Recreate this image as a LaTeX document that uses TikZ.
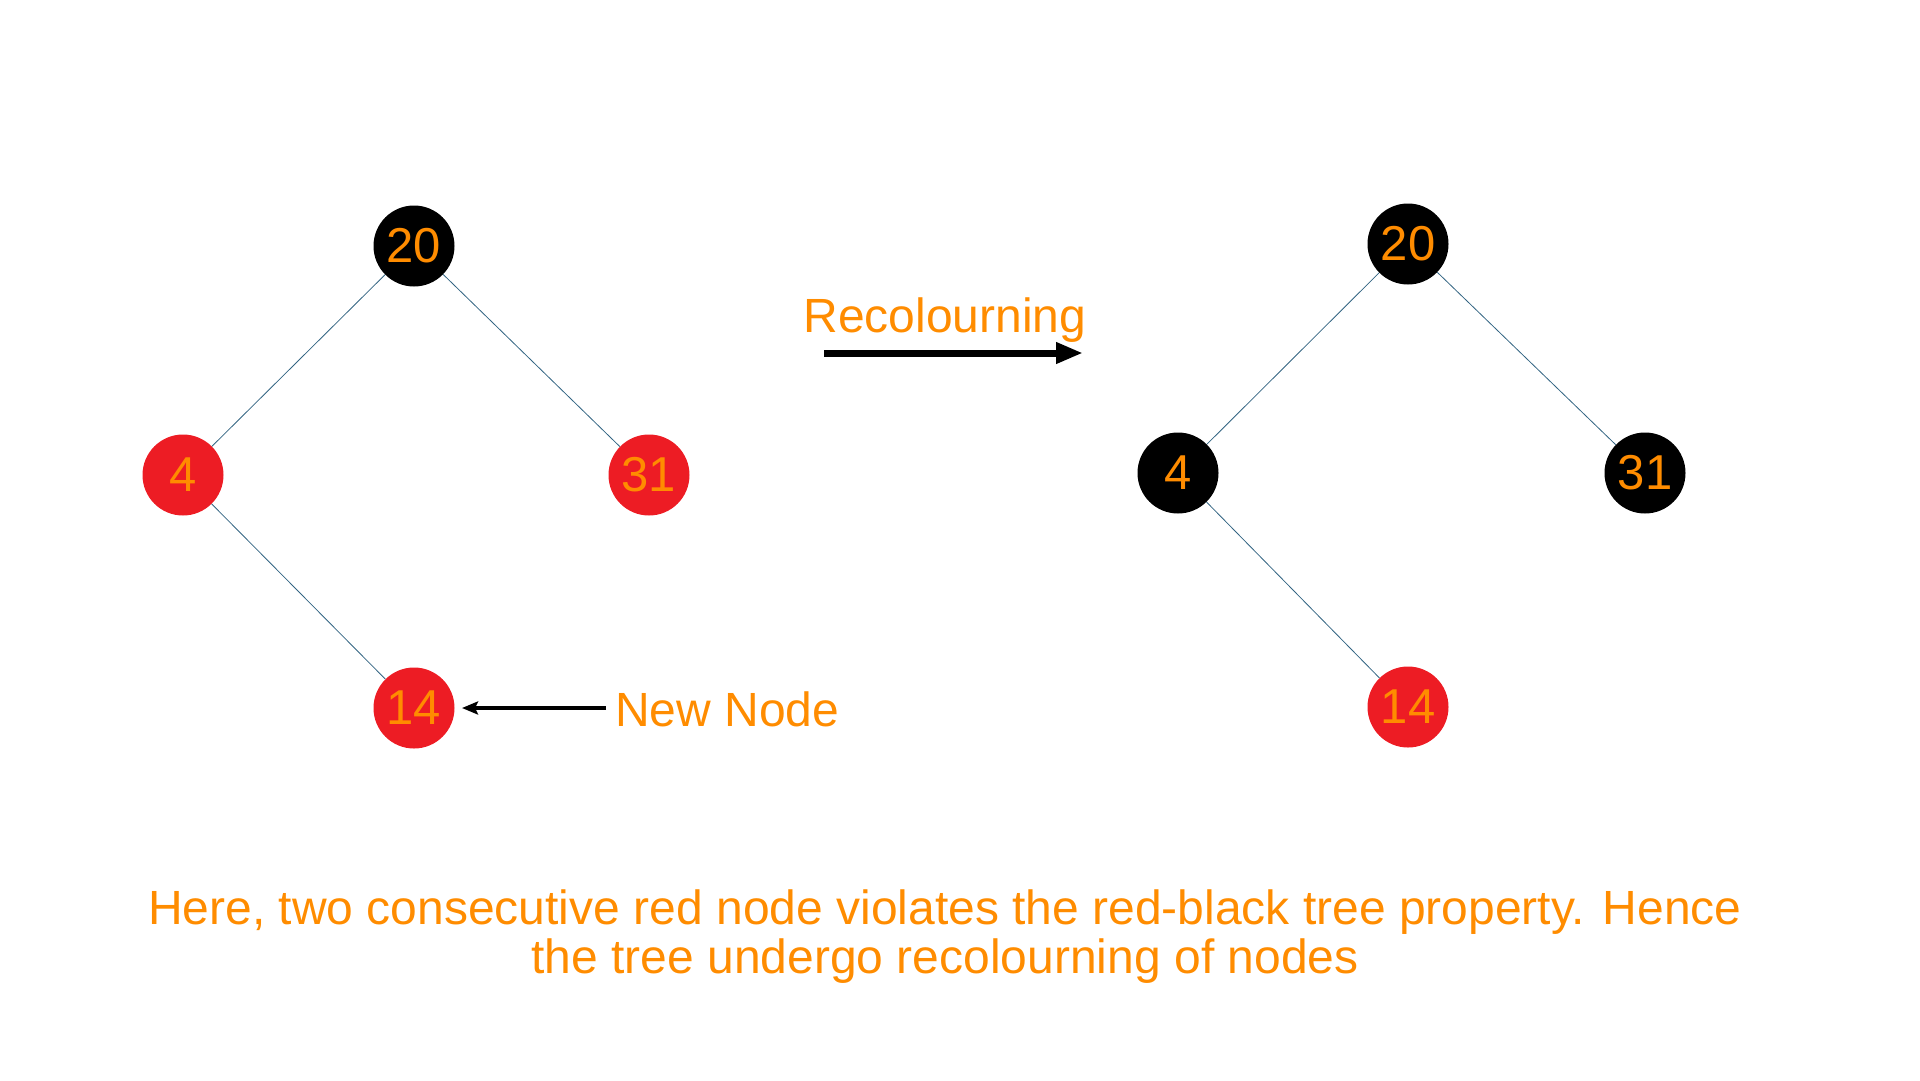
\documentclass[tikz,border=0pt]{standalone}
\usepackage{fontspec}
\setmainfont{Liberation Sans}
\usetikzlibrary{arrows.meta}
\definecolor{tred}{RGB}{237,28,36}
\definecolor{torange}{RGB}{255,140,0}
\definecolor{tedge}{RGB}{50,100,130}
\begin{document}
\begin{tikzpicture}[x=1pt,y=-1pt,
  rbnode/.style={circle,minimum size=81pt,inner sep=0pt,text=torange,font=\fontsize{49}{49}\selectfont},
  rednode/.style={rbnode,fill=tred},
  blacknode/.style={rbnode,fill=black},
  treeedge/.style={draw=tedge,line width=0.8pt},
  lbl/.style={text=torange,font=\fontsize{48}{48}\selectfont,inner sep=0pt}]
\path[use as bounding box] (0,0) rectangle (1920,1080);
% left tree
\node[blacknode] (a20) at (414,246) {20};
\node[rednode] (a4) at (183,475) {4};
\node[rednode] (a31) at (649,475) {31};
\node[rednode] (a14) at (414,708) {14};
\draw[treeedge] (a20) -- (a4);
\draw[treeedge] (a20) -- (a31);
\draw[treeedge] (a4) -- (a14);
% right tree
\node[blacknode] (b20) at (1408,244) {20};
\node[blacknode] (b4) at (1178,473) {4};
\node[blacknode] (b31) at (1645,473) {31};
\node[rednode] (b14) at (1408,707) {14};
\draw[treeedge] (b20) -- (b4);
\draw[treeedge] (b20) -- (b31);
\draw[treeedge] (b4) -- (b14);
% recolouring arrow
\node[lbl] (rec) at (945,320) {Recolourning};
\coordinate (r1) at (824,353);
\coordinate (r2) at (1083,353);
\draw[line width=7pt,-{Triangle[length=27pt,width=20pt]}] (r1) -- (r2);
% new node
\node[lbl,anchor=west] (nn) at (615,709) {New Node};
\coordinate (n1) at (606,708);
\coordinate (n2) at (462,708);
\draw[line width=4.5pt,-{Stealth[length=16pt,width=13pt,inset=3pt]}] (n1) -- (n2);
% bottom text
\node[text=torange,font=\fontsize{48}{49}\selectfont,align=center,inner sep=0pt] (cap) at (945,937)
 {Here, two consecutive red node violates the red-black tree property. Hence\\the tree undergo recolourning of nodes};
\end{tikzpicture}
\end{document}
